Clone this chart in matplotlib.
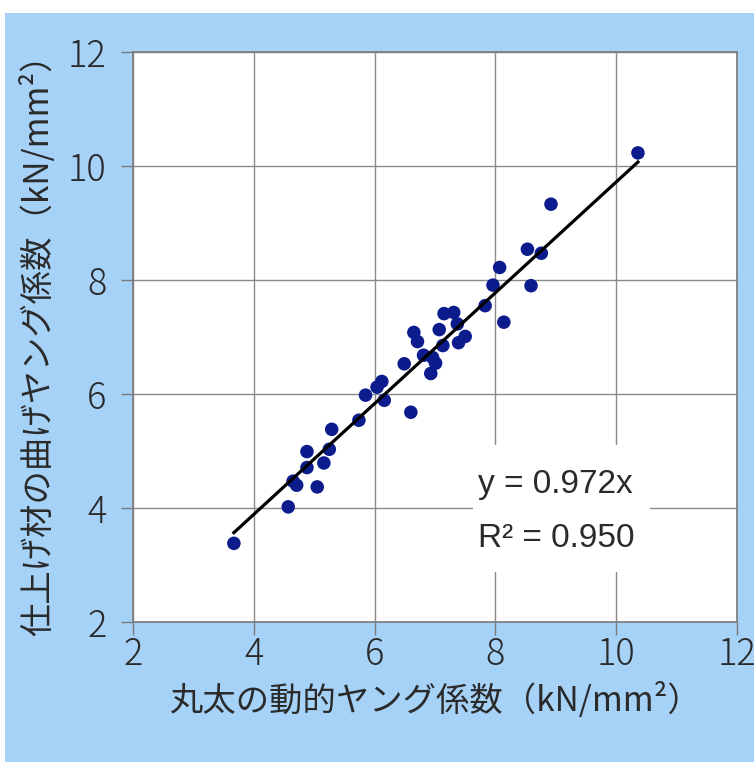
import numpy as np
import matplotlib
matplotlib.use('Agg')
import matplotlib.pyplot as plt
from matplotlib.patches import Rectangle

plt.rcParams['font.family'] = ['Noto Sans CJK JP', 'DejaVu Sans']

# 丸太の動的ヤング係数 / 仕上げ材の曲げヤング係数 (kN/mm2)
log_e = [3.67, 4.57, 4.65, 4.71, 4.88, 4.88, 5.05, 5.16, 5.25, 5.29,
         5.74, 5.85, 6.04, 6.12, 6.16, 6.49, 6.60, 6.65, 6.71, 6.81,
         6.96, 7.01, 6.93, 7.07, 7.13, 7.15, 7.31, 7.37, 7.39, 7.50,
         7.83, 7.96, 8.07, 8.14, 8.53, 8.59, 8.76, 8.92, 10.36]
board_e = [3.38, 4.02, 4.47, 4.40, 4.99, 4.71, 4.37, 4.79, 5.03, 5.38,
           5.54, 5.98, 6.12, 6.22, 5.89, 6.53, 5.68, 7.08, 6.92, 6.68,
           6.64, 6.54, 6.36, 7.13, 6.85, 7.41, 7.43, 7.23, 6.90, 7.01,
           7.55, 7.91, 8.22, 7.26, 8.54, 7.90, 8.47, 9.33, 10.23]
slope = 0.972
r2 = 0.950
ticks = [2, 4, 6, 8, 10, 12]

bg = '#a6d2f8'
grid_c = '#8a8a8a'
txt_c = '#2a2a2a'

fig = plt.figure(figsize=(7.54, 7.62), dpi=100, facecolor='white')
# 背景の水色パネル（上と左に白い余白）
fig.patches.append(Rectangle((5 / 754, 0), 1, (762 - 13) / 762,
                             transform=fig.transFigure, facecolor=bg,
                             edgecolor='none', zorder=-10))

ax = fig.add_axes([133 / 754, 140 / 762, 604 / 754, 570 / 762])
ax.set_facecolor('white')
ax.set_xlim(2, 12)
ax.set_ylim(2, 12)
ax.set_xticks(ticks)
ax.set_yticks(ticks)
ax.set_xticklabels([str(t) for t in ticks], fontweight='light')
ax.set_yticklabels([str(t) for t in ticks], fontweight='light')
ax.grid(True, color=grid_c, linewidth=1.0)
ax.set_axisbelow(True)
for s in ax.spines.values():
    s.set_color('#7a7a7a')
    s.set_linewidth(1.2)
ax.tick_params(axis='both', direction='out', length=9, width=1,
               color='#7a7a7a', labelsize=26, labelcolor=txt_c)
ax.tick_params(axis='x', pad=1)
ax.tick_params(axis='y', pad=10)

ax.scatter(log_e, board_e, s=95, color='#0c1c8c', edgecolors='none',
           zorder=3)

# 原点を通る回帰直線
xs = np.array([min(log_e), max(log_e)])
ax.plot(xs, slope * xs, color='black', linewidth=2.3, zorder=4)

# 回帰式の白抜きラベル
ax.add_patch(Rectangle((7.63, 2.88), 2.93, 2.22, facecolor='white',
                       edgecolor='none', zorder=2))
ax.text(7.71, 4.26, f'y = {slope:.3f}x', fontsize=24,
        family=['Liberation Sans'], color=txt_c,
        ha='left', va='baseline', zorder=5)
ax.text(7.71, 3.32, f'R² = {r2:.3f}', fontsize=24,
        family=['Liberation Sans'], color=txt_c,
        ha='left', va='baseline', zorder=5)

ax.set_xlabel('丸太の動的ヤング係数（kN/mm²）', fontsize=24,
              color=txt_c, labelpad=6)
ax.set_ylabel('仕上げ材の曲げヤング係数（kN/mm²）', fontsize=24,
              color=txt_c, labelpad=8)

fig.savefig('out.png', dpi=100, facecolor=fig.get_facecolor())
